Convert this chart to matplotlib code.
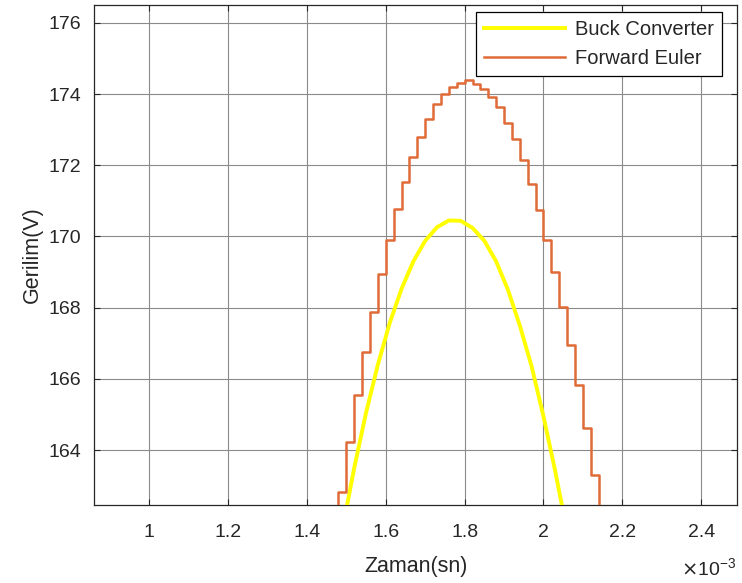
import matplotlib
matplotlib.use("Agg")
import matplotlib.pyplot as plt
from matplotlib.ticker import FuncFormatter

plt.rcParams["font.family"] = ["Liberation Sans", "DejaVu Sans"]

# Time values are in units of 1e-3 s (the "x10^-3" multiplier is drawn as text).
BUCK_T = [1.495, 1.52, 1.55, 1.58, 1.61, 1.64, 1.67, 1.70, 1.73, 1.76,
          1.79, 1.82, 1.85, 1.88, 1.91, 1.94, 1.97, 2.00, 2.03, 2.06]
BUCK_V = [162.06, 163.5, 165.05, 166.4, 167.57, 168.53, 169.3, 169.88, 170.26, 170.45,
          170.44, 170.24, 169.88, 169.3, 168.5, 167.5, 166.35, 164.95, 163.4, 161.7]

EULER_T = [1.46, 1.48, 1.50, 1.52, 1.54, 1.56, 1.58, 1.60, 1.62, 1.64,
           1.66, 1.68, 1.70, 1.72, 1.74, 1.76, 1.78, 1.80, 1.82, 1.84,
           1.86, 1.88, 1.90, 1.92, 1.94, 1.96, 1.98, 2.00, 2.02, 2.04,
           2.06, 2.08, 2.10, 2.12, 2.14, 2.16]
EULER_V = [161.3, 162.83, 164.23, 165.54, 166.76, 167.88, 168.95, 169.90, 170.77, 171.52,
           172.22, 172.78, 173.30, 173.71, 173.99, 174.20, 174.32, 174.39, 174.27, 174.13,
           173.92, 173.64, 173.20, 172.74, 172.15, 171.48, 170.73, 169.89, 169.00, 168.02,
           166.94, 165.82, 164.61, 163.30, 161.9, 161.9]

X_TICKS = [1.0, 1.2, 1.4, 1.6, 1.8, 2.0, 2.2, 2.4]
Y_TICKS = [164, 166, 168, 170, 172, 174, 176]

TXT = "#262626"

fig = plt.figure(figsize=(7.42, 5.83), dpi=100)
ax = fig.add_axes([0.1267, 0.1338, 0.8661, 0.8576])

ax.plot(BUCK_T, BUCK_V, color="#ffff00", lw=2.8, label="Buck Converter", zorder=3)
ax.step(EULER_T, EULER_V, where="post", color="#e06a38", lw=1.8,
        label="Forward Euler", zorder=4)

ax.set_xlim(0.86, 2.49)
ax.set_ylim(162.46, 176.5)
ax.set_xticks(X_TICKS)
ax.set_yticks(Y_TICKS)
ax.xaxis.set_major_formatter(FuncFormatter(lambda v, p: f"{v:g}"))
ax.grid(True, color="#8a8a8a", lw=0.8)
ax.set_axisbelow(True)
ax.tick_params(direction="in", top=True, right=True, length=4, width=0.8,
               labelsize=14, colors=TXT)
ax.tick_params(axis="x", pad=14)
ax.tick_params(axis="y", pad=9)
for s in ax.spines.values():
    s.set_color(TXT)
    s.set_linewidth(0.9)

ax.set_xlabel("Zaman(sn)", fontsize=15.5, color=TXT)
ax.set_ylabel("Gerilim(V)", fontsize=15.5, color=TXT)
ax.xaxis.set_label_coords(0.501, -0.102)
ax.yaxis.set_label_coords(-0.079, 0.5)
ax.text(1.0, -0.126, r"$\times\mathregular{10^{-3}}$", transform=ax.transAxes,
        ha="right", va="center", fontsize=14, color=TXT)

leg = ax.legend(loc="upper right", bbox_to_anchor=(0.977, 0.986), borderaxespad=0,
                fontsize=14.5, handlelength=4.0, fancybox=False, framealpha=1,
                edgecolor="black", borderpad=0.4, labelspacing=0.5, handletextpad=0.5)
leg.set_zorder(5)
leg.get_frame().set_linewidth(0.9)
for t in leg.get_texts():
    t.set_color(TXT)

fig.savefig("out.png", dpi=100)
